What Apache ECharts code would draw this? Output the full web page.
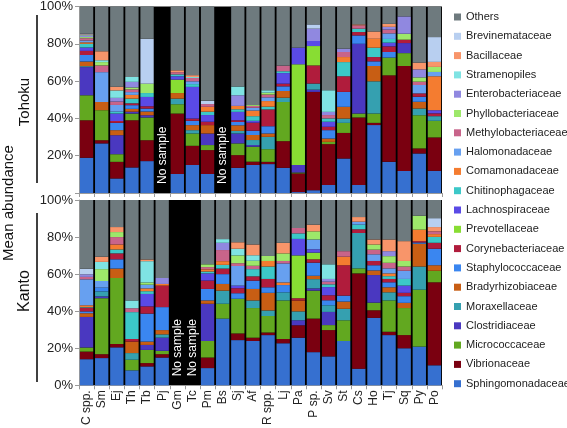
<!DOCTYPE html>
<html><head><meta charset="utf-8">
<script src="https://cdn.jsdelivr.net/npm/echarts@6/dist/echarts.min.js"></script>
<style>html,body{margin:0;padding:0;background:#fff}#c{width:567px;height:428px}</style>
</head><body><div id="c"></div>
<script>
const categories = ['C spp.','Sm','Ej','Th','Tb','Pj','Gm','Tc','Pm','Bs','Sj','Af','R spp.','Lj','Pa','P sp.','Sv','St','Cs','Ho','Tj','Sq','Py','Po'];
// stacking order bottom -> top
const families = ['Sphingomonadaceae','Vibrionaceae','Micrococcaceae','Clostridiaceae','Moraxellaceae','Bradyrhizobiaceae','Staphylococcaceae','Corynebacteriaceae','Prevotellaceae','Lachnospiraceae','Chitinophagaceae','Comamonadaceae','Halomonadaceae','Methylobacteriaceae','Phyllobacteriaceae','Enterobacteriaceae','Stramenopiles','Bacillaceae','Brevinemataceae','Others'];
const colors = ['#3670d0','#7a0010','#62a820','#4a38c0','#35a0b0','#c85e14','#3a86f0','#b01c3c','#88dd33','#5a4ae6','#3cc8c8','#f47c30','#67a0f0','#c8648a','#9de86a','#9088e0','#7fe3e3','#f8956a','#b8cff0','#6e7a7e'];
const yTicks = [0,20,40,60,80,100];

// Tohoku (Pj and Bs: no sample)
const tSph = [18.9,26.6,7.8,13.7,17.1,null,10.2,15,10.2,null,13.5,15,15.5,13.5,0.5,1.5,4.3,18.5,4.3,36.4,16.7,11.8,21.2,11.9];
const tVib = [20.1,1.7,8.9,25.3,11.2,null,32.4,10.3,12.8,null,6.8,1.8,1.2,14.3,10,52.7,21.9,13.7,36.2,1.2,46.4,56.3,2.7,17.9];
const tMic = [13.4,16.1,4.1,3.6,12.2,null,5,6.6,2.7,null,6.3,8,6.8,21,0.5,0,1.2,5.4,2.1,5,9.5,6.9,17.8,8.9];
const tClo = [15.1,0,10.2,1,1.2,null,0,0,6.2,null,5.3,0.9,0,0,4,1.2,0,0,37.4,0,0,5.4,0,0];
const tMor = [0.5,0,0,0,0,null,3,1.8,0,null,1.4,2.7,6.6,2.3,0,3.3,0,2.3,0,17.3,0,0,3.6,2.5];
const tBra = [2.5,4.4,2.7,1.5,2,null,3,2.7,4.5,null,3,2.7,1.8,3.6,0,0,1.8,6.3,0,8.2,0,0,3.6,0];
const tSta = [3.5,0,3.9,2,1.6,null,0,2.3,0,null,1.8,2.3,3.9,2.5,0,0,4.5,8,4.5,2.5,3,0,2.7,0];
const tCor = [2.2,0,1,1,1.2,null,0,1.2,1.8,null,0.9,4.3,9,1.4,0,9.7,1.8,8.4,1.8,2.3,3,1.8,1.8,1.5];
const tPre = [0,0,0,0,0,null,7.2,0,0,null,0,0,0,0,54,10.4,0,0,0,0,0,0,0,0];
const tLac = [1.8,0,4,0,5,null,1.8,17,3.6,null,4.5,1,0,5.7,8.9,2.7,2.7,0,0,0,2,0,0,1.7];
const tChi = [2,0,1,2.5,2.1,null,1,1.5,1.8,null,1.4,2.5,1.5,1,0,0,1.8,7.6,1.8,5,2,0,0,0];
const tCom = [0.8,0,0,2,0,null,0,0,2.6,null,1.8,3,3,0,0,0,0,2.7,0,4.8,0,0,0,18.2];
const tHal = [1,16,3.6,1.5,0,null,0,1.5,0,null,0,1.5,2,0,0,0,0,0,0,0,3,0,4.5,2.3];
const tMet = [1.2,3.6,1.8,1.5,0,null,1.2,1.8,1.5,null,0,1,1.5,3,0,0,1.8,2.7,1.8,0,2,0,1.8,0];
const tPhy = [0.6,1.8,0,1,5,null,0,0,0,null,0,0.5,1,0,0,0,0,0,0,0,0,3.2,2.3,2.7];
const tEnt = [0.6,0,2,3,0,null,0,0,0,null,5.7,0,0,0,0,6.6,1.7,1.8,0,0,1.5,9.3,4.3,0];
const tStr = [0.4,1,4,2.6,0,null,0,0.5,0,null,4.7,0,1.3,0,0,0,11.6,0,0,0,0,0,0,0];
const tBac = [0.4,4.8,2,0,0,null,1,1,0,null,0,0,0,0,0,0,0,0,0.5,3.9,1.6,0,3.6,2.7];
const tBre = [0.4,0,0,0,24.1,null,0,0,1.7,null,0,0,0,0,0,2.3,0,0,0,0,0,0,0,13.3];
const tOth = [14.6,24,43,37.8,17.3,null,34.2,36.8,50.6,null,42.9,52.8,44.9,31.7,22.1,9.6,44.9,22.6,9.6,13.4,9.3,5.3,30.1,16.4];

// Kanto (Gm and Tc: no sample)
const kSph = [14.1,14.7,20.5,8.1,10.2,15,null,null,9.3,36,24.4,23.9,27.1,22.7,25.7,17.9,15.6,23.9,9,36.4,27.1,20,20.9,10.8];
const kVib = [4.1,2.1,1.8,0,1.8,1.8,null,null,5.7,0,3.6,1.8,1.4,2.3,6.7,18.1,14.2,0,51.4,4.1,1.8,7.1,0,44.8];
const kMic = [2.2,30.2,35.6,5.7,7.1,1.8,null,null,8.9,8,18.7,16,8.9,20.8,0,15.1,2.7,11.2,2.7,4.1,16.9,14.6,30.7,6.2];
const kClo = [16.5,1,0,0,2.7,7.1,null,null,20.1,0,0,0,0,0,2.7,1.2,7.1,0,0,14.9,0,0,0,0];
const kMor = [0,2.7,0,3.6,0,1.8,null,null,0,7.1,0,4.1,3,4.4,4.8,5,3.6,6.2,19.1,0,4.4,0,12.5,0];
const kBra = [2,0,5.1,6.2,1.8,2.3,null,null,1.8,3.6,0,6.2,9.5,0,5.9,1.8,0,3.9,0,2.5,2.7,2.8,12.3,3];
const kSta = [1,2,5,0,15.1,12.4,null,null,6.2,5.3,3,4.5,3,3.9,0,7.1,2.7,3.2,0,2.8,2.7,3.6,0.7,8.9];
const kCor = [2,0,3.2,1.4,3.9,11.6,null,null,4.5,3,2.7,2.3,4.5,0,1.2,1.8,2.7,16.4,2,2.3,1.8,1.8,0.7,3.2];
const kPre = [0,0,0,0,0,0,null,null,0,0,0,0,0,0,23.1,3.6,0,0,0,0,0,0,0,0];
const kLac = [0,0,0,0,6.7,0,null,null,3.9,0,1.4,0,0,0,8.9,1.8,4.4,0,0,0,0,3.9,0,0];
const kChi = [0.3,0,2.1,14.5,1.5,0,null,null,1,2,0,3.9,6.7,0,3,0,1.5,0,2.5,0,1.5,3.6,0,3.2];
const kCom = [1,0,2.7,0,1.5,0.9,null,null,1.2,2,0,0,3,1.4,0,0,0,4.6,0,0,1.5,0,6.2,1.5];
const kHal = [14,3.6,0,0,2,0,null,null,0,0,10.6,0,0,10.3,0,5.3,0,0,1.6,3.6,2.7,4.4,0,0];
const kMet = [1.3,0,4,2.1,0,0,null,null,1.2,6,1.5,1.8,0,1.3,2.9,0,1.4,3,0,2.5,3,2.3,0,1.5];
const kPhy = [0,6.4,2.7,0,1.2,0,null,null,1.5,0,4.2,2.7,2.7,4.1,0,4.4,0,0,0,2.8,3.6,3,7.5,0];
const kEnt = [1.4,0,0,0,0,3.2,null,null,0,3.9,0,0,0,0,0,0,1.5,0,0,0,2.7,0,0,0];
const kStr = [0,3.9,0,4.2,11.5,0,null,null,0,2,3.6,3,0,0,0,0,7.9,0,0,0,0,0,0,0];
const kBac = [0,2.8,2.7,0,0.9,0,null,null,0,0,3.5,5.8,0,5.7,0,3.6,0,0,2.5,2.7,6.3,10.7,0,2.3];
const kBre = [3,0,0,0,0,0,null,null,0,0,0,0,0,0,0,0,0,0,0,0,0,0,0,4.8];
const kOth = [37.1,30.6,14.6,54.2,32.1,42.1,null,null,34.7,21.1,22.8,24,30.2,23.1,15.1,13.3,34.7,27.6,9.2,21.3,21.3,22.2,8.5,9.8];

const tohokuValues = [tSph,tVib,tMic,tClo,tMor,tBra,tSta,tCor,tPre,tLac,tChi,tCom,tHal,tMet,tPhy,tEnt,tStr,tBac,tBre,tOth];
const kantoValues  = [kSph,kVib,kMic,kClo,kMor,kBra,kSta,kCor,kPre,kLac,kChi,kCom,kHal,kMet,kPhy,kEnt,kStr,kBac,kBre,kOth];
const noSampleTohoku = ['Pj','Bs'];
const noSampleKanto = ['Gm','Tc'];

const FONT = '"Liberation Sans", Arial, sans-serif';
const chart = echarts.init(document.getElementById('c'), null, {renderer:'canvas'});

const series = [];
families.forEach((f,i)=>{
  series.push({name:f,type:'bar',stack:'T',xAxisIndex:0,yAxisIndex:0,data:tohokuValues[i],
    barCategoryGap:'12%',itemStyle:{color:colors[i]},emphasis:{disabled:true}});
  series.push({name:f,type:'bar',stack:'K',xAxisIndex:1,yAxisIndex:1,data:kantoValues[i],
    barCategoryGap:'12%',itemStyle:{color:colors[i]},emphasis:{disabled:true}});
});

const axisLineStyle = {lineStyle:{color:'#9a9a9a',width:1}};
function yAxis(idx, hideZero){
  return {type:'value',gridIndex:idx,min:0,max:100,interval:20,
    axisLine:{show:true,...axisLineStyle},axisTick:{show:true,length:4,...axisLineStyle},
    splitLine:{show:false},
    axisLabel:{fontFamily:FONT,fontSize:13,color:'#222',margin:6,
      formatter:v=> (hideZero && v===0) ? '' : v+'%'}};
}
function xAxis(idx, showLabel){
  return {type:'category',gridIndex:idx,data:categories,
    axisLine:{show:true,...axisLineStyle},axisTick:{show:true,length:4,...axisLineStyle},
    axisLabel:{show:showLabel,rotate:90,fontFamily:FONT,fontSize:12,color:'#222',margin:5,interval:0}};
}

const option = {
  animation:false,
  backgroundColor:'#fff',
  grid:[
    {left:79,width:363,top:6,height:187,show:true,backgroundColor:'#000',borderWidth:0},
    {left:79,width:363,top:200,height:187,show:true,backgroundColor:'#000',borderWidth:0}
  ],
  xAxis:[xAxis(0,false),xAxis(1,true)],
  yAxis:[yAxis(0,true),yAxis(1,false)],
  legend:{orient:'vertical',left:449,top:6,itemWidth:7,itemHeight:7,itemGap:7.3,itemTextGap:4,
    icon:'rect',data:families.slice().reverse(),
    textStyle:{fontFamily:FONT,fontSize:11,color:'#222',lineHeight:12},selectedMode:false},
  series:series
};
chart.setOption(option);

const graphics = [];
function noSample(cat, grid){
  const p = chart.convertToPixel({xAxisIndex:grid,yAxisIndex:grid},[cat,0]);
  graphics.push({type:'text',x:p[0],y:p[1]-9,rotation:Math.PI/2,z:100,
    style:{text:'No sample',fill:'#fff',font:'12px '+FONT,align:'left',verticalAlign:'middle'}});
}
noSampleTohoku.forEach(c=>noSample(c,0));
noSampleKanto.forEach(c=>noSample(c,1));
graphics.push({type:'text',x:9,y:203,rotation:Math.PI/2,
  style:{text:'Mean abundance',fill:'#111',font:'15px '+FONT,align:'center',verticalAlign:'middle'}});
graphics.push({type:'text',x:25,y:102,rotation:Math.PI/2,
  style:{text:'Tohoku',fill:'#111',font:'15px '+FONT,align:'center',verticalAlign:'middle'}});
graphics.push({type:'text',x:25,y:291,rotation:Math.PI/2,
  style:{text:'Kanto',fill:'#111',font:'16px '+FONT,align:'center',verticalAlign:'middle'}});
graphics.push({type:'line',shape:{x1:37,y1:15,x2:37,y2:183},style:{stroke:'#000',lineWidth:1.5}});
graphics.push({type:'line',shape:{x1:37,y1:213,x2:37,y2:382},style:{stroke:'#000',lineWidth:1.5}});
chart.setOption({graphic:graphics});
</script></body></html>
